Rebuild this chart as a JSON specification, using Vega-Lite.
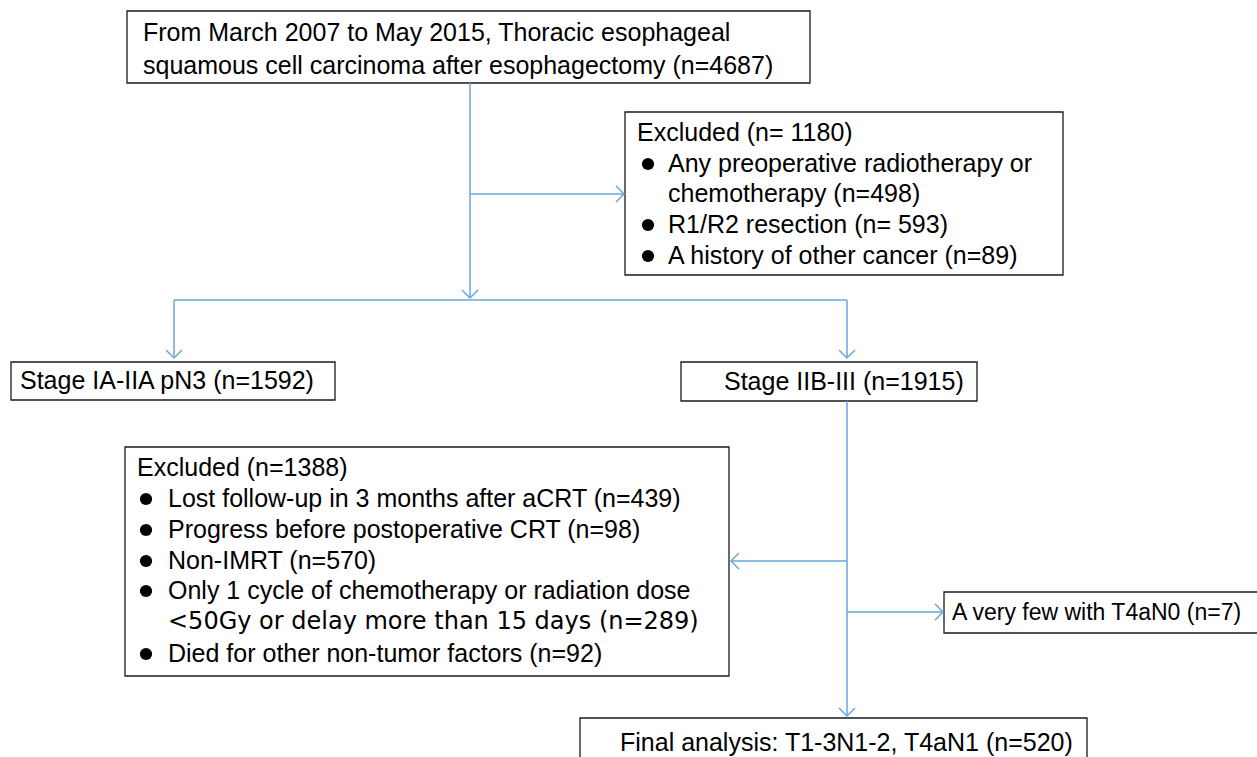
{
  "$schema": "https://vega.github.io/schema/vega-lite/v6.json",
  "width": 1257,
  "height": 757,
  "autosize": {"type": "fit", "contains": "padding"},
  "padding": 0,
  "background": "white",
  "config": {"view": {"stroke": null}},
  "datasets": {
    "boxes": [
      {"x": 127, "x2": 810, "y": 11, "y2": 83},
      {"x": 625, "x2": 1063, "y": 112, "y2": 275},
      {"x": 11, "x2": 335, "y": 362, "y2": 400},
      {"x": 681, "x2": 977, "y": 362, "y2": 401},
      {"x": 125, "x2": 729, "y": 447, "y2": 676},
      {"x": 944, "x2": 1265, "y": 592, "y2": 633},
      {"x": 580, "x2": 1087, "y": 718, "y2": 775}
    ],
    "lines": [
      {"x": 470, "x2": 470, "y": 83, "y2": 297},
      {"x": 470, "x2": 623, "y": 194, "y2": 194},
      {"x": 174, "x2": 847, "y": 300, "y2": 300},
      {"x": 174, "x2": 174, "y": 300, "y2": 357},
      {"x": 847, "x2": 847, "y": 300, "y2": 357},
      {"x": 847, "x2": 847, "y": 401, "y2": 715},
      {"x": 732, "x2": 847, "y": 561, "y2": 561},
      {"x": 847, "x2": 942, "y": 612, "y2": 612}
    ],
    "arrows": [
      {"x": 470, "y": 298, "dir": "down"},
      {"x": 624, "y": 194, "dir": "right"},
      {"x": 174, "y": 358, "dir": "down"},
      {"x": 847, "y": 358, "dir": "down"},
      {"x": 731, "y": 561, "dir": "left"},
      {"x": 943, "y": 612, "dir": "right"},
      {"x": 847, "y": 716, "dir": "down"}
    ],
    "bullets": [
      {"x": 648, "y": 164},
      {"x": 648, "y": 225},
      {"x": 648, "y": 256},
      {"x": 146, "y": 499},
      {"x": 146, "y": 530},
      {"x": 146, "y": 561},
      {"x": 146, "y": 591},
      {"x": 146, "y": 654}
    ],
    "labels": [
      {"x": 143, "y": 33, "t": "From March 2007 to May 2015, Thoracic esophageal"},
      {"x": 143, "y": 66, "t": "squamous cell carcinoma after esophagectomy (n=4687)"},
      {"x": 637, "y": 133, "t": "Excluded (n= 1180)"},
      {"x": 668, "y": 164, "t": "Any preoperative radiotherapy or"},
      {"x": 668, "y": 194, "t": "chemotherapy (n=498)"},
      {"x": 668, "y": 225, "t": "R1/R2 resection (n= 593)"},
      {"x": 668, "y": 256, "t": "A history of other cancer (n=89)"},
      {"x": 20, "y": 381, "t": "Stage IA-IIA pN3 (n=1592)"},
      {"x": 724, "y": 382, "t": "Stage IIB-III (n=1915)"},
      {"x": 137, "y": 468, "t": "Excluded (n=1388)"},
      {"x": 168, "y": 499, "t": "Lost follow-up in 3 months after aCRT (n=439)"},
      {"x": 168, "y": 530, "t": "Progress before postoperative CRT (n=98)"},
      {"x": 168, "y": 561, "t": "Non-IMRT (n=570)"},
      {"x": 168, "y": 591, "t": "Only 1 cycle of chemotherapy or radiation dose"},
      {"x": 168, "y": 654, "t": "Died for other non-tumor factors (n=92)"},
      {"x": 620, "y": 743, "t": "Final analysis: T1-3N1-2, T4aN1 (n=520)"}
    ],
    "labelsWide": [
      {"x": 168, "y": 622, "t": "<50Gy or delay more than 15 days (n=289)"}
    ],
    "labelsSmall": [
      {"x": 952, "y": 613, "t": "A very few with T4aN0 (n=7)"}
    ]
  },
  "layer": [
    {
      "data": {"name": "boxes"},
      "mark": {"type": "rect", "fill": "white", "stroke": "#1a1a1a", "strokeWidth": 1.3, "clip": true},
      "encoding": {
        "x": {"field": "x", "type": "quantitative", "scale": {"domain": [0, 1257], "nice": false, "zero": false}, "axis": null},
        "x2": {"field": "x2"},
        "y": {"field": "y", "type": "quantitative", "scale": {"domain": [0, 757], "nice": false, "zero": false, "reverse": true}, "axis": null},
        "y2": {"field": "y2"}
      }
    },
    {
      "data": {"name": "lines"},
      "mark": {"type": "rule", "stroke": "#6aa6dd", "strokeWidth": 1.5},
      "encoding": {
        "x": {"field": "x", "type": "quantitative"},
        "x2": {"field": "x2"},
        "y": {"field": "y", "type": "quantitative"},
        "y2": {"field": "y2"}
      }
    },
    {
      "data": {"name": "arrows"},
      "mark": {"type": "point", "filled": false, "stroke": "#6aa6dd", "strokeWidth": 1.5, "size": 256, "opacity": 1},
      "encoding": {
        "x": {"field": "x", "type": "quantitative"},
        "y": {"field": "y", "type": "quantitative"},
        "shape": {
          "field": "dir", "type": "nominal", "legend": null,
          "scale": {"domain": ["down", "right", "left"], "range": ["M-1,-1L0,0L1,-1", "M-1,-1L0,0L-1,1", "M1,-1L0,0L1,1"]}
        }
      }
    },
    {
      "data": {"name": "bullets"},
      "mark": {"type": "point", "filled": true, "shape": "circle", "color": "black", "size": 150, "opacity": 1},
      "encoding": {
        "x": {"field": "x", "type": "quantitative"},
        "y": {"field": "y", "type": "quantitative"}
      }
    },
    {
      "data": {"name": "labels"},
      "mark": {"type": "text", "align": "left", "baseline": "middle", "font": "Liberation Sans", "fontSize": 25, "color": "black"},
      "encoding": {
        "x": {"field": "x", "type": "quantitative"},
        "y": {"field": "y", "type": "quantitative"},
        "text": {"field": "t"}
      }
    },
    {
      "data": {"name": "labelsWide"},
      "mark": {"type": "text", "align": "left", "baseline": "middle", "font": "DejaVu Sans", "fontSize": 24, "color": "black"},
      "encoding": {
        "x": {"field": "x", "type": "quantitative"},
        "y": {"field": "y", "type": "quantitative"},
        "text": {"field": "t"}
      }
    },
    {
      "data": {"name": "labelsSmall"},
      "mark": {"type": "text", "align": "left", "baseline": "middle", "font": "Liberation Sans", "fontSize": 23, "color": "black"},
      "encoding": {
        "x": {"field": "x", "type": "quantitative"},
        "y": {"field": "y", "type": "quantitative"},
        "text": {"field": "t"}
      }
    }
  ]
}
